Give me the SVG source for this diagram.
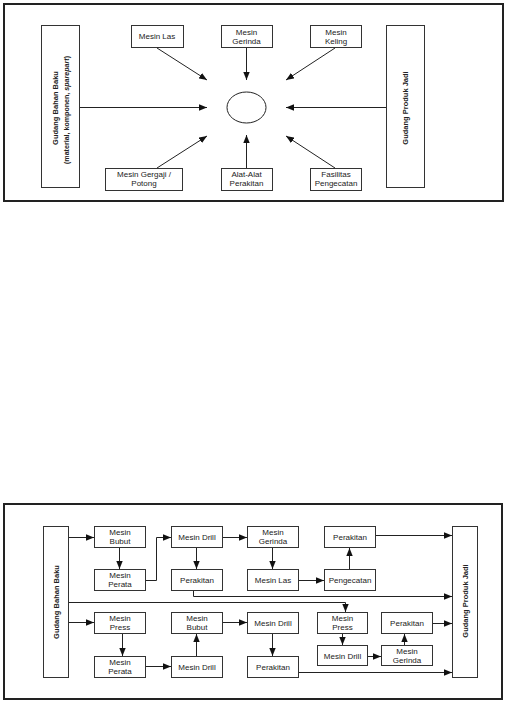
<svg xmlns="http://www.w3.org/2000/svg" width="507" height="705" viewBox="0 0 507 705">
<style>
.frame{fill:#fff;stroke:#222;stroke-width:2}
.box{fill:#fff;stroke:#333;stroke-width:1}
.t{font-family:"Liberation Sans",Arial,sans-serif;font-size:8px;fill:#222;text-anchor:middle}
.v{font-weight:bold;font-size:7.5px}
.c{fill:none;stroke:#222;stroke-width:1}
.ca{fill:none;stroke:#222;stroke-width:1;marker-end:url(#ah)}
</style>
<defs>
<marker id="ah" viewBox="0 0 10 8" refX="10" refY="4" markerWidth="8" markerHeight="6.5" orient="auto" markerUnits="userSpaceOnUse">
<path d="M0,0 L10,4 L0,8 z" fill="#111"/>
</marker>
</defs>
<rect width="507" height="705" fill="#fff"/>

<!-- Top diagram -->
<rect id="frame-top" class="frame" x="4" y="4" width="499" height="197"/>
<g id="top-gudang-bahan">
<rect class="box" x="41.5" y="25.5" width="38" height="162"/>
<text class="t v" transform="translate(58,108) rotate(-90)">Gudang Bahan Baku</text>
<text class="t v" transform="translate(69,110) rotate(-90)" style="font-size:7.1px">(material, komponen, <tspan font-style="italic">sparepart</tspan>)</text>
</g>
<g id="top-gudang-produk">
<rect class="box" x="386.5" y="25.5" width="38" height="162"/>
<text class="t v" transform="translate(408,108) rotate(-90)">Gudang Produk Jadi</text>
</g>
<g id="top-mesin-las"><rect class="box" x="131.5" y="25.5" width="52" height="22"/><text class="t" x="157" y="39">Mesin Las</text></g>
<g id="top-mesin-gerinda"><rect class="box" x="221.5" y="25.5" width="51" height="22"/><text class="t" x="246.5" y="35">Mesin</text><text class="t" x="246.5" y="44">Gerinda</text></g>
<g id="top-mesin-keling"><rect class="box" x="310.5" y="25.5" width="51" height="22"/><text class="t" x="336" y="35">Mesin</text><text class="t" x="336" y="44">Keling</text></g>
<g id="top-mesin-gergaji"><rect class="box" x="105.5" y="168.5" width="77" height="22"/><text class="t" x="144" y="177">Mesin Gergaji /</text><text class="t" x="144" y="186">Potong</text></g>
<g id="top-alat-perakitan"><rect class="box" x="221.5" y="168.5" width="51" height="22"/><text class="t" x="246.5" y="177">Alat-Alat</text><text class="t" x="246.5" y="186">Perakitan</text></g>
<g id="top-fasilitas"><rect class="box" x="310.5" y="168.5" width="51" height="22"/><text class="t" x="336" y="177">Fasilitas</text><text class="t" x="336" y="186">Pengecatan</text></g>
<g id="top-center"><ellipse cx="246.5" cy="107.5" rx="19.5" ry="15.5" fill="#fff" stroke="#222" stroke-width="1"/></g>
<g id="top-connectors">
<line class="ca" x1="80" y1="107.5" x2="207" y2="107.5"/>
<line class="ca" x1="386" y1="107.5" x2="286" y2="107.5"/>
<line class="ca" x1="157" y1="48" x2="207" y2="80"/>
<line class="ca" x1="246.5" y1="48" x2="246.5" y2="80"/>
<line class="ca" x1="335" y1="48" x2="286" y2="80"/>
<line class="ca" x1="157" y1="168" x2="207" y2="136"/>
<line class="ca" x1="246.5" y1="168" x2="246.5" y2="135"/>
<line class="ca" x1="335" y1="168" x2="286" y2="136"/>
</g>

<!-- Bottom diagram -->
<rect id="frame-bottom" class="frame" x="4" y="504" width="498" height="195"/>
<g id="b-gudang-bahan"><rect class="box" x="43.5" y="526.5" width="25" height="151"/><text class="t v" transform="translate(58.5,602) rotate(-90)">Gudang Bahan Baku</text></g>
<g id="b-gudang-produk"><rect class="box" x="452.5" y="526.5" width="25" height="151"/><text class="t v" transform="translate(468,601) rotate(-90)">Gudang Produk Jadi</text></g>

<g id="b-bubut1"><rect class="box" x="94.5" y="526.5" width="51" height="21"/><text class="t" x="120" y="535">Mesin</text><text class="t" x="120" y="543.5">Bubut</text></g>
<g id="b-drill1"><rect class="box" x="171.5" y="526.5" width="51" height="21"/><text class="t" x="197" y="540">Mesin Drill</text></g>
<g id="b-gerinda1"><rect class="box" x="247.5" y="526.5" width="51" height="21"/><text class="t" x="273" y="535">Mesin</text><text class="t" x="273" y="543.5">Gerinda</text></g>
<g id="b-perakitan1"><rect class="box" x="324.5" y="526.5" width="51" height="21"/><text class="t" x="350" y="540">Perakitan</text></g>

<g id="b-perata1"><rect class="box" x="94.5" y="569.5" width="51" height="21"/><text class="t" x="120" y="578">Mesin</text><text class="t" x="120" y="586.5">Perata</text></g>
<g id="b-perakitan2"><rect class="box" x="171.5" y="569.5" width="51" height="21"/><text class="t" x="197" y="583">Perakitan</text></g>
<g id="b-las"><rect class="box" x="247.5" y="569.5" width="51" height="21"/><text class="t" x="273" y="583">Mesin Las</text></g>
<g id="b-pengecatan"><rect class="box" x="324.5" y="569.5" width="51" height="21"/><text class="t" x="350" y="583">Pengecatan</text></g>

<g id="b-press1"><rect class="box" x="94.5" y="612.5" width="51" height="21"/><text class="t" x="120" y="621">Mesin</text><text class="t" x="120" y="629.5">Press</text></g>
<g id="b-bubut2"><rect class="box" x="171.5" y="612.5" width="51" height="21"/><text class="t" x="197" y="621">Mesin</text><text class="t" x="197" y="629.5">Bubut</text></g>
<g id="b-drill2"><rect class="box" x="247.5" y="612.5" width="51" height="21"/><text class="t" x="273" y="626">Mesin Drill</text></g>
<g id="b-press2"><rect class="box" x="317.5" y="612.5" width="50" height="21"/><text class="t" x="342.5" y="621">Mesin</text><text class="t" x="342.5" y="629.5">Press</text></g>
<g id="b-perakitan3"><rect class="box" x="381.5" y="612.5" width="51" height="21"/><text class="t" x="407" y="626">Perakitan</text></g>

<g id="b-perata2"><rect class="box" x="94.5" y="656.5" width="51" height="21"/><text class="t" x="120" y="665">Mesin</text><text class="t" x="120" y="673.5">Perata</text></g>
<g id="b-drill3"><rect class="box" x="171.5" y="656.5" width="51" height="21"/><text class="t" x="197" y="670">Mesin Drill</text></g>
<g id="b-perakitan4"><rect class="box" x="247.5" y="656.5" width="51" height="21"/><text class="t" x="273" y="670">Perakitan</text></g>
<g id="b-drill4"><rect class="box" x="317.5" y="645.5" width="50" height="20"/><text class="t" x="342.5" y="658.5">Mesin Drill</text></g>
<g id="b-gerinda2"><rect class="box" x="381.5" y="645.5" width="51" height="20"/><text class="t" x="407" y="654">Mesin</text><text class="t" x="407" y="662.5">Gerinda</text></g>

<g id="b-connectors">
<line class="ca" x1="69" y1="537.5" x2="94" y2="537.5"/>
<line class="ca" x1="69" y1="622.5" x2="94" y2="622.5"/>
<line class="ca" x1="119.5" y1="548" x2="119.5" y2="569"/>
<polyline class="ca" points="146,580.5 156.5,580.5 156.5,537.5 171,537.5"/>
<line class="ca" x1="223" y1="537.5" x2="247" y2="537.5"/>
<line class="ca" x1="196.5" y1="548" x2="196.5" y2="569"/>
<line class="ca" x1="272.5" y1="548" x2="272.5" y2="569"/>
<line class="ca" x1="299" y1="580.5" x2="324" y2="580.5"/>
<line class="ca" x1="349.5" y1="569" x2="349.5" y2="548"/>
<line class="ca" x1="376" y1="535.5" x2="452" y2="535.5"/>
<polyline class="ca" points="193.5,591 193.5,596.5 452,596.5"/>
<polyline class="ca" points="69,602.5 345.5,602.5 345.5,612"/>
<line class="ca" x1="122.5" y1="634" x2="122.5" y2="656"/>
<line class="ca" x1="146" y1="666.5" x2="171" y2="666.5"/>
<line class="ca" x1="196.5" y1="656" x2="196.5" y2="634"/>
<line class="ca" x1="223" y1="622.5" x2="247" y2="622.5"/>
<line class="ca" x1="272.5" y1="634" x2="272.5" y2="656"/>
<line class="ca" x1="299" y1="672.5" x2="452" y2="672.5"/>
<line class="ca" x1="342.5" y1="634" x2="342.5" y2="645"/>
<line class="ca" x1="368" y1="656.5" x2="381" y2="656.5"/>
<line class="ca" x1="404.5" y1="645" x2="404.5" y2="634"/>
<line class="ca" x1="433" y1="623.5" x2="452" y2="623.5"/>
</g>
</svg>
